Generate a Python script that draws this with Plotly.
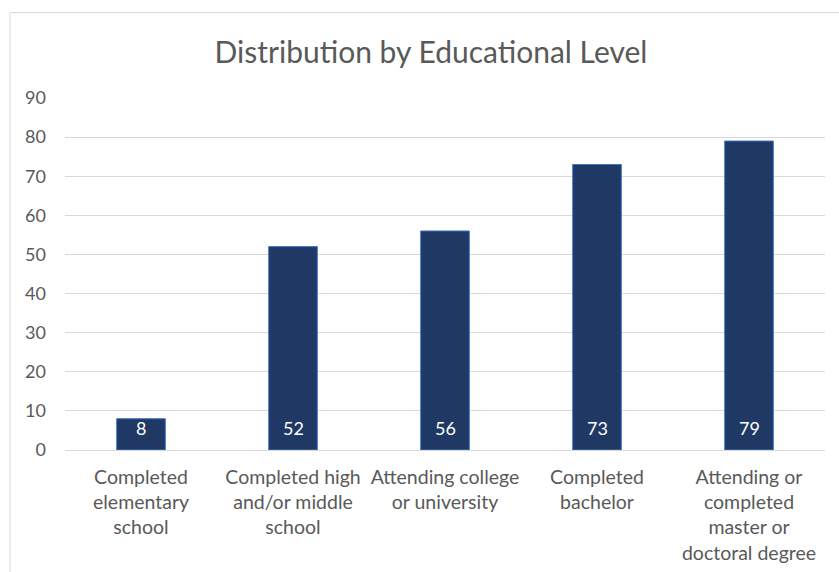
import plotly.graph_objects as go

categories = [
    "Completed<br>elementary<br>school",
    "Completed high<br>and/or middle<br>school",
    "Attending college<br>or university",
    "Completed<br>bachelor",
    "Attending or<br>completed<br>master or<br>doctoral degree",
]
values = [8, 52, 56, 73, 79]
y_ticks = [0, 10, 20, 30, 40, 50, 60, 70, 80, 90]
title_text = "Distribution by Educational Level"

FONT = "Lato"
GRAY = "#595959"
W, H = 839, 572
ml, mr, mt, mb = 65, 14, 97.5, 122
pw = W - ml - mr
ph = H - mt - mb

fig = go.Figure()
fig.add_trace(go.Bar(
    x=categories, y=values,
    marker=dict(color="#203864", line=dict(color="#4472C4", width=1)),
    width=0.32,
    hoverinfo="x+y",
))

for c, v in zip(categories, values):
    fig.add_annotation(x=c, y=0, text=str(v), showarrow=False,
                       yanchor="middle", yshift=22,
                       font=dict(family=FONT, size=18, color="white"))

# chart area border (top and left)
x_left = (10 - ml) / pw
y_top = (H - mb - 12) / ph
fig.add_shape(type="line", xref="paper", yref="paper",
              x0=x_left, x1=(W - ml) / pw, y0=y_top, y1=y_top,
              line=dict(color="#D9D9D9", width=1))
fig.add_shape(type="line", xref="paper", yref="paper",
              x0=x_left, x1=x_left, y0=y_top, y1=-mb / ph - 0.01,
              line=dict(color="#D9D9D9", width=1))

fig.update_layout(
    width=W, height=H,
    margin=dict(l=ml, r=mr, t=mt, b=mb, pad=0, autoexpand=False),
    paper_bgcolor="white", plot_bgcolor="white",
    title=dict(text=title_text, x=(431 - ml) / pw, xref="paper", xanchor="center",
               y=1 - 52 / H, yanchor="middle",
               font=dict(family=FONT, size=30, color=GRAY)),
    showlegend=False,
    bargap=0.68,
    font=dict(family=FONT, color=GRAY),
)
fig.update_yaxes(range=[0, 90], tickvals=y_ticks, showgrid=True,
                 gridcolor="#D9D9D9", gridwidth=1, zeroline=True,
                 zerolinecolor="#D9D9D9", zerolinewidth=1,
                 ticks="", ticklabelstandoff=18,
                 tickfont=dict(family=FONT, size=18, color=GRAY),
                 showline=False, fixedrange=True)
fig.update_xaxes(showgrid=False, ticks="", showline=False,
                 tickfont=dict(family=FONT, size=19.5, color=GRAY),
                 ticklabelstandoff=13, fixedrange=True)

fig.write_html("out.html")
